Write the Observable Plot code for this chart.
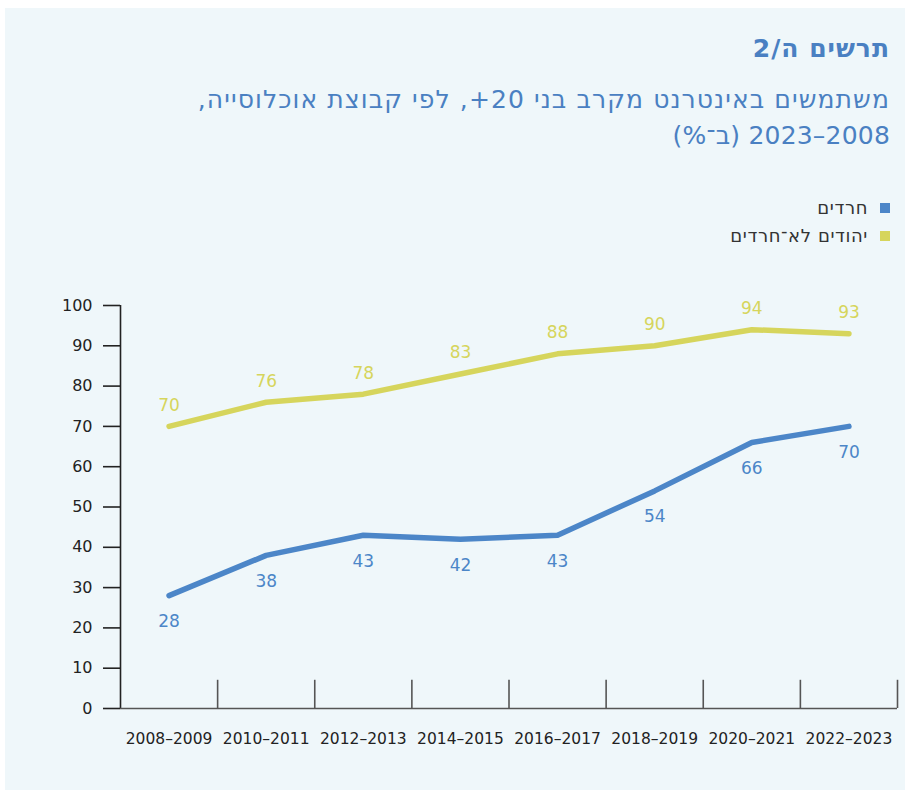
<!DOCTYPE html>
<html lang="he">
<head>
<meta charset="utf-8">
<script src="https://cdn.jsdelivr.net/npm/d3@7"></script>
<script src="https://cdn.jsdelivr.net/npm/@observablehq/plot@0.6"></script>
<style>
  html, body { margin: 0; padding: 0; background: #ffffff; }
  body { width: 907px; height: 796px; position: relative; overflow: hidden;
         font-family: "DejaVu Sans", "Open Sans", sans-serif; }
  #panel { position: absolute; left: 5px; top: 8px; width: 900px; height: 782px; background: #eff7fa; }
  .rtl { position: absolute; right: 17px; direction: rtl; text-align: right; white-space: nowrap; }
  #title { top: 34px; font-size: 25px; font-weight: 700; color: #4a80c2; line-height: 30px; letter-spacing: 1px; }
  #subtitle { top: 82px; font-size: 25px; color: #4a80c2; line-height: 36px; letter-spacing: 1.1px; }
  #subtitle .l2 { letter-spacing: 0.2px; }
  #legend { top: 194px; font-size: 18px; color: #333; line-height: 28px; letter-spacing: 0.6px; }
  .sw { display: inline-block; width: 10px; height: 10px; margin-left: 12px; vertical-align: middle; position: relative; top: -1px; }
  #chart { position: absolute; left: 0; top: 280px; }
</style>
</head>
<body>
<div id="panel"></div>
<div id="title" class="rtl">תרשים ה/2</div>
<div id="subtitle" class="rtl">משתמשים באינטרנט מקרב בני 20+, לפי קבוצת אוכלוסייה,<br><span class="l2">2008–2023 (ב־%)</span></div>
<div id="legend" class="rtl"></div>
<div id="chart"></div>
<script>
const periods = ["2008–2009", "2010–2011", "2012–2013", "2014–2015", "2016–2017", "2018–2019", "2020–2021", "2022–2023"];
const haredi = [28, 38, 43, 42, 43, 54, 66, 70];
const nonHaredi = [70, 76, 78, 83, 88, 90, 94, 93];
const yTicks = [0, 10, 20, 30, 40, 50, 60, 70, 80, 90, 100];
const seriesNames = ["חרדים", "יהודים לא־חרדים"];
const colors = ["#4c86c8", "#d6d55c"];

// legend
const legend = document.getElementById("legend");
seriesNames.forEach((name, k) => {
  const row = document.createElement("div");
  row.innerHTML = `<span class="sw" style="background:${colors[k]}"></span>${name}`;
  legend.appendChild(row);
});

const rowsH = periods.map((p, i) => ({i, period: p, value: haredi[i]}));
const rowsN = periods.map((p, i) => ({i, period: p, value: nonHaredi[i]}));
const separators = periods.map((_, i) => i + 0.5);

const fontFamily = '"DejaVu Sans", "Open Sans", sans-serif';

const plot = Plot.plot({
  width: 907,
  height: 480,
  marginLeft: 120,
  marginRight: 10,
  marginTop: 25,
  marginBottom: 52,
  style: { fontFamily, fontSize: "16px", background: "transparent", color: "#222" },
  x: { type: "linear", domain: [-0.5, periods.length - 0.5] },
  y: { domain: [0, 100] },
  marks: [
    Plot.axisY({ ticks: yTicks, tickSize: 17, tickPadding: 11, stroke: "#222", strokeWidth: 1.6, fill: "#222", fontSize: 16, label: null }),
    Plot.axisX({ ticks: periods.map((_, i) => i), tickSize: 0, tickPadding: 24, tickFormat: i => periods[i], fill: "#222", fontSize: 15.5, label: null }),
    Plot.ruleX([-0.5], { y1: 0, y2: 100, stroke: "#222", strokeWidth: 1.6 }),
    Plot.ruleX(separators, { y1: 0, y2: 7, stroke: "#555", strokeWidth: 1.6 }),
    Plot.ruleY([0], { stroke: "#555", strokeWidth: 1.6 }),
    Plot.line(rowsN, { x: "i", y: "value", stroke: colors[1], strokeWidth: 5.5, strokeLinecap: "round", strokeLinejoin: "round" }),
    Plot.line(rowsH, { x: "i", y: "value", stroke: colors[0], strokeWidth: 5.5, strokeLinecap: "round", strokeLinejoin: "round" }),
    Plot.text(rowsN, { x: "i", y: "value", text: "value", dy: -21, fill: colors[1], fontSize: 17 }),
    Plot.text(rowsH, { x: "i", y: "value", text: "value", dy: 26, fill: colors[0], fontSize: 17 })
  ]
});
document.getElementById("chart").appendChild(plot);
</script>
</body>
</html>
